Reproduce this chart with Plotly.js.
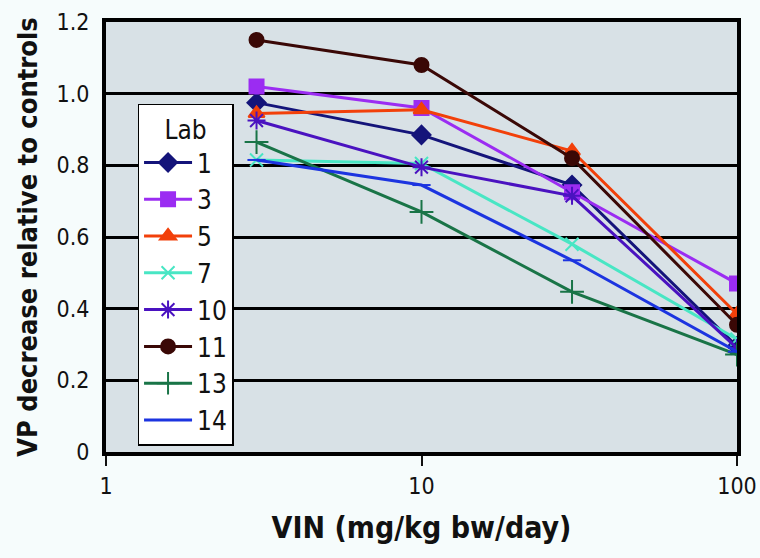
<!DOCTYPE html>
<html>
<head>
<meta charset="utf-8">
<script src="https://cdn.plot.ly/plotly-3.0.1.min.js"></script>
<style>html,body{margin:0;padding:0;background:#f6fcfc;}#chart{width:760px;height:558px;}</style>
</head>
<body>
<div id="chart"></div>
<script>
const doses = [3, 10, 30, 100];
const labs = ["1", "3", "5", "7", "10", "11", "13", "14"];
const lab1  = [0.975, 0.885, 0.745, 0.295];
const lab3  = [1.02, 0.96, 0.725, 0.47];
const lab5  = [0.945, 0.955, 0.84, 0.385];
const lab7  = [0.815, 0.805, 0.58, 0.315];
const lab10 = [0.925, 0.795, 0.715, 0.29];
const lab11 = [1.15, 1.08, 0.82, 0.355];
const lab13 = [0.865, 0.67, 0.447, 0.272];
const lab14 = [0.815, 0.745, 0.535, 0.28];
const yTickVals = [0, 0.2, 0.4, 0.6, 0.8, 1.0, 1.2];
const yTickText = ["0", "0.2", "0.4", "0.6", "0.8", "1.0", "1.2"];
const xTickVals = [1, 10, 100];
const xTickText = ["1", "10", "100"];

const series = [lab1, lab3, lab5, lab7, lab10, lab11, lab13, lab14];
const colors = ["#14147a", "#9b2cf2", "#f2400a", "#48e6c4", "#4a12c0", "#3a0806", "#197447", "#1c34e0"];
const symbols = ["diamond", "square", "triangle-up", "x-thin-open", "asterisk-open", "circle", "cross-thin-open", "line-ew-open"];
const sizes = [14, 14, 14, 13, 15, 14, 17, 13];

const traces = series.map((s, i) => ({
  x: doses, y: s, name: labs[i], type: "scatter", mode: "lines+markers",
  line: {color: colors[i], width: 3},
  marker: {symbol: symbols[i], size: sizes[i], color: colors[i], line: {color: colors[i], width: 2}}
}));

const FONT = "'Liberation Sans Narrow', 'DejaVu Sans Condensed', 'Roboto Condensed', sans-serif";

Plotly.newPlot("chart", traces, {
  width: 760, height: 558,
  paper_bgcolor: "#f6fcfc",
  plot_bgcolor: "#d8e1e6",
  margin: {l: 106, r: 23, t: 22, b: 106},
  font: {family: FONT, color: "#111", size: 22},
  xaxis: {
    type: "log", range: [0, 2],
    tickvals: xTickVals, ticktext: xTickText,
    ticks: "outside", ticklen: 10, tickwidth: 1.5, tickcolor: "#111",
    showgrid: false, zeroline: false,
    showline: true, linewidth: 4, linecolor: "#000", mirror: true,
    tickfont: {family: FONT, size: 23, color: "#111"},
    title: {text: "VIN (mg/kg bw/day)", font: {family: FONT, size: 30, color: "#111", weight: "bold"}, standoff: 20}
  },
  yaxis: {
    range: [0, 1.2],
    tickvals: yTickVals, ticktext: yTickText,
    ticks: "", ticklabelstandoff: 8,
    showgrid: true, gridcolor: "#000", gridwidth: 2.5,
    zeroline: false,
    showline: true, linewidth: 4, linecolor: "#000", mirror: true,
    tickfont: {family: FONT, size: 23, color: "#111"},
    title: {text: "VP decrease relative to controls", font: {family: FONT, size: 27, color: "#111", weight: "bold"}, standoff: 12}
  },
  showlegend: true,
  legend: {
    x: 0.05, y: 0.81, xanchor: "left", yanchor: "top",
    bgcolor: "#ffffff", bordercolor: "#000", borderwidth: 1.5,
    font: {family: FONT, size: 26, color: "#111"},
    title: {text: "Lab", side: "top center", font: {family: FONT, size: 26, color: "#111"}},
    itemwidth: 48, tracegroupgap: 0
  }
}, {displayModeBar: false});
</script>
</body>
</html>
